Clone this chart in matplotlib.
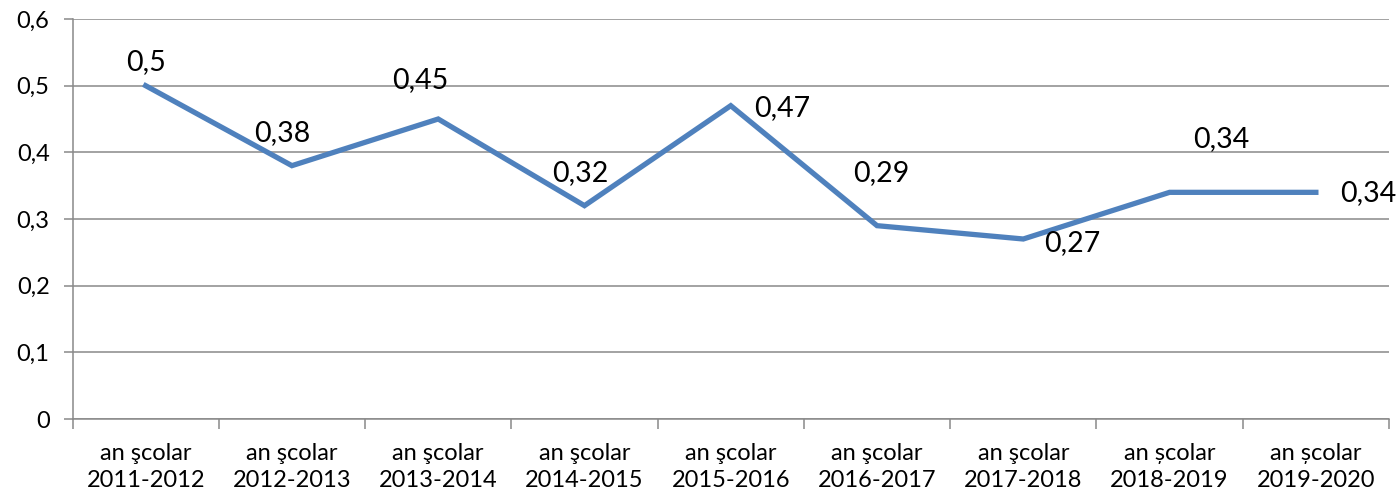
import numpy as np
import matplotlib
matplotlib.use("Agg")
import matplotlib.pyplot as plt
from matplotlib.ticker import FixedLocator, FuncFormatter

plt.rcParams['font.family'] = ['Lato', 'DejaVu Sans']

# date
ani = ["2011-2012", "2012-2013", "2013-2014", "2014-2015", "2015-2016",
       "2016-2017", "2017-2018", "2018-2019", "2019-2020"]
prefix = ["an şcolar"] * 7 + ["an școlar"] * 2
valori = [0.5, 0.38, 0.45, 0.32, 0.47, 0.29, 0.27, 0.34, 0.34]
# pozitia etichetelor fata de punct (pixeli)
label_off = [(0, 24), (-10, 33), (-18, 39), (-4, 33), (51, -2),
             (4, 53), (49, -4), (52, 53), (52, -1)]

fig = plt.figure(figsize=(13.99, 4.98), dpi=100)
ax = fig.add_axes([72.5 / 1399, 1 - 419 / 498, (1389 - 72.5) / 1399, 400 / 498])

x = np.arange(len(valori))
ax.plot(x, valori, color="#4F81BD", lw=3.8, solid_joinstyle="miter", zorder=3)

for xi, v, (dx, dy) in zip(x, valori, label_off):
    ax.annotate(("%g" % v).replace(".", ","), (xi, v), xytext=(dx, dy),
                textcoords="offset pixels", ha="center", va="center",
                fontsize=20.5, color="black", zorder=4)

ax.set_xlim(-0.5, len(valori) - 0.5)
ax.set_ylim(0, 0.6)
ax.set_yticks(np.arange(0, 0.61, 0.1))
ax.yaxis.set_major_formatter(FuncFormatter(lambda v, p: ("%g" % round(v, 1)).replace(".", ",")))
ax.grid(axis="y", color="#898989", lw=1.1)
ax.set_axisbelow(True)

# tick-uri la granitele categoriilor, etichete in centru
ax.xaxis.set_major_locator(FixedLocator(np.arange(-0.5, len(valori), 1.0)))
ax.xaxis.set_major_formatter(FuncFormatter(lambda v, p: ""))
ax.xaxis.set_minor_locator(FixedLocator(x))
ax.set_xticklabels([p + "\n" + a for p, a in zip(prefix, ani)], minor=True)
for lbl in ax.get_xticklabels(minor=True):
    lbl.set_linespacing(1.4)
ax.tick_params(axis="x", which="major", length=7.5, width=1.1, color="#898989", direction="out")
ax.tick_params(axis="x", which="minor", length=0, pad=17, labelsize=17)
ax.tick_params(axis="y", length=6.5, width=1.1, color="#898989", pad=10, labelsize=17)

for s in ["top", "right"]:
    ax.spines[s].set_visible(False)
for s in ["left", "bottom"]:
    ax.spines[s].set_color("#898989")
    ax.spines[s].set_linewidth(1.1)

fig.savefig("out.png", dpi=100)
